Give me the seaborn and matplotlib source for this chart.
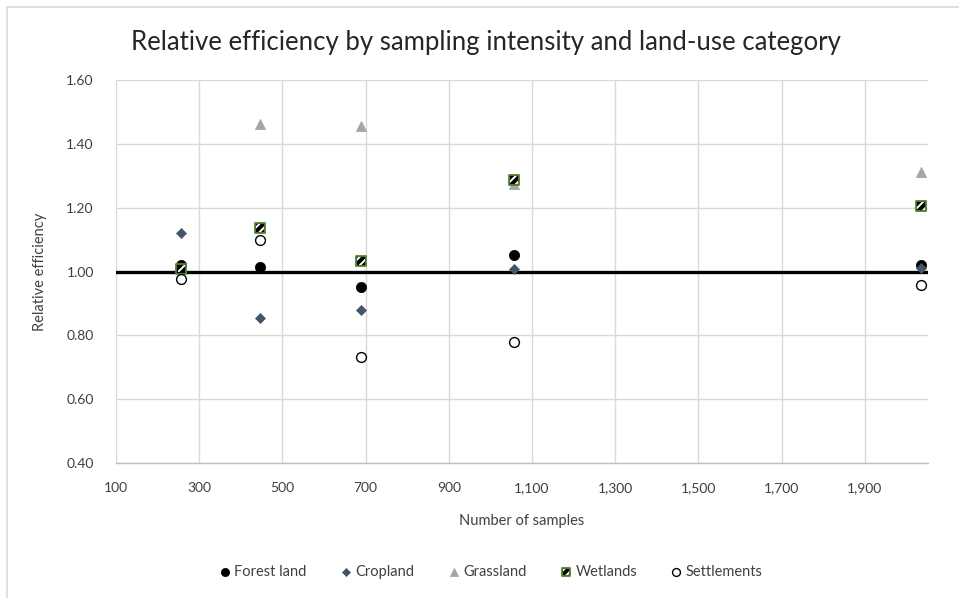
import matplotlib
matplotlib.use("Agg")
import matplotlib.pyplot as plt
import seaborn as sns
import pandas as pd
from matplotlib.patches import Rectangle
from matplotlib.legend_handler import HandlerTuple
from matplotlib.ticker import FuncFormatter

samples = [257, 446, 689, 1057, 2035]
forest_land = [1.020, 1.015, 0.952, 1.052, 1.020]
cropland = [1.121, 0.854, 0.878, 1.009, 1.010]
grassland = [1.010, 1.463, 1.455, 1.275, 1.313]
wetlands = [1.009, 1.137, 1.033, 1.287, 1.206]
settlements = [0.975, 1.099, 0.733, 0.779, 0.957]
series_names = ["Forest land", "Cropland", "Grassland", "Wetlands", "Settlements"]
x_ticks = [100, 300, 500, 700, 900, 1100, 1300, 1500, 1700, 1900]
y_ticks = [0.40, 0.60, 0.80, 1.00, 1.20, 1.40, 1.60]
reference_level = 1.0

sns.set_theme(style="white")
plt.rcParams["font.family"] = ["Lato", "DejaVu Sans"]
plt.rcParams["hatch.linewidth"] = 1.4

fig = plt.figure(figsize=(9.59, 5.98), dpi=100)
ax = fig.add_axes([116 / 959, 1 - 463 / 598, (928 - 116) / 959, (463 - 80) / 598])

txt = "#404040"
grid_c = "#D9D9D9"

ax.axhline(reference_level, color="black", lw=2.4, zorder=2)

sns.scatterplot(x=samples, y=forest_land, ax=ax, marker="o", s=55,
                color="black", edgecolor="black", linewidth=0.5, zorder=3)
h_forest = ax.collections[-1]
sns.scatterplot(x=samples, y=cropland, ax=ax, marker="D", s=26,
                color="#44546A", edgecolor="#44546A", linewidth=0.5, zorder=3)
h_crop = ax.collections[-1]
sns.scatterplot(x=samples, y=grassland, ax=ax, marker="^", s=55,
                color="#A5A5A5", edgecolor="#A5A5A5", linewidth=0.5, zorder=3)
h_grass = ax.collections[-1]
sns.scatterplot(x=samples, y=wetlands, ax=ax, marker="s", s=50,
                facecolor="black", edgecolor="#548235", linewidth=1.3, zorder=3)
h_wet1 = ax.collections[-1]
sns.scatterplot(x=samples, y=wetlands, ax=ax, marker="s", s=30,
                facecolor="none", edgecolor="white", linewidth=0, hatch="////", zorder=3.1)
h_wet2 = ax.collections[-1]
sns.scatterplot(x=samples, y=settlements, ax=ax, marker="o", s=50,
                facecolor="white", edgecolor="black", linewidth=1.0, zorder=3.2)
h_set = ax.collections[-1]

ax.set_xlim(100, 2052)
ax.set_ylim(0.40, 1.60)
ax.set_xticks(x_ticks)
ax.set_yticks(y_ticks)
ax.xaxis.set_major_formatter(FuncFormatter(lambda v, p: f"{int(round(v)):,}"))
ax.yaxis.set_major_formatter(FuncFormatter(lambda v, p: f"{v:.2f}"))

ax.grid(True, color=grid_c, lw=1.0)
ax.set_axisbelow(True)
for side in ["left", "right", "top"]:
    ax.spines[side].set_visible(False)
ax.spines["bottom"].set_color("#BFBFBF")
ax.spines["bottom"].set_linewidth(1.0)
ax.tick_params(axis="both", length=0, labelsize=10, colors=txt)
ax.tick_params(axis="y", pad=16)
ax.tick_params(axis="x", pad=14)

ax.set_xlabel("Number of samples", fontsize=10.5, color=txt, labelpad=14)
ax.set_ylabel("Relative efficiency", fontsize=10.5, color=txt, labelpad=14)
fig.suptitle("Relative efficiency by sampling intensity and land-use category",
             x=0.507, y=0.950, fontsize=18.5, color="#262626")

handles = [h_forest, h_crop, h_grass, (h_wet1, h_wet2), h_set]
fig.legend(handles, series_names, loc="center", bbox_to_anchor=(0.511, 1 - 572 / 598),
           ncol=5, frameon=False, fontsize=10.5, labelcolor=txt, handletextpad=0.15,
           columnspacing=2.2, handlelength=1.0, markerscale=0.8,
           handler_map={tuple: HandlerTuple(ndivide=1, pad=0)})

fig.add_artist(Rectangle((7 / 959, -0.1), 1.2, (598 - 7) / 598 + 0.1,
                         transform=fig.transFigure, fill=False, edgecolor="#D9D9D9", lw=1.2))

fig.savefig("out.png", dpi=100)
